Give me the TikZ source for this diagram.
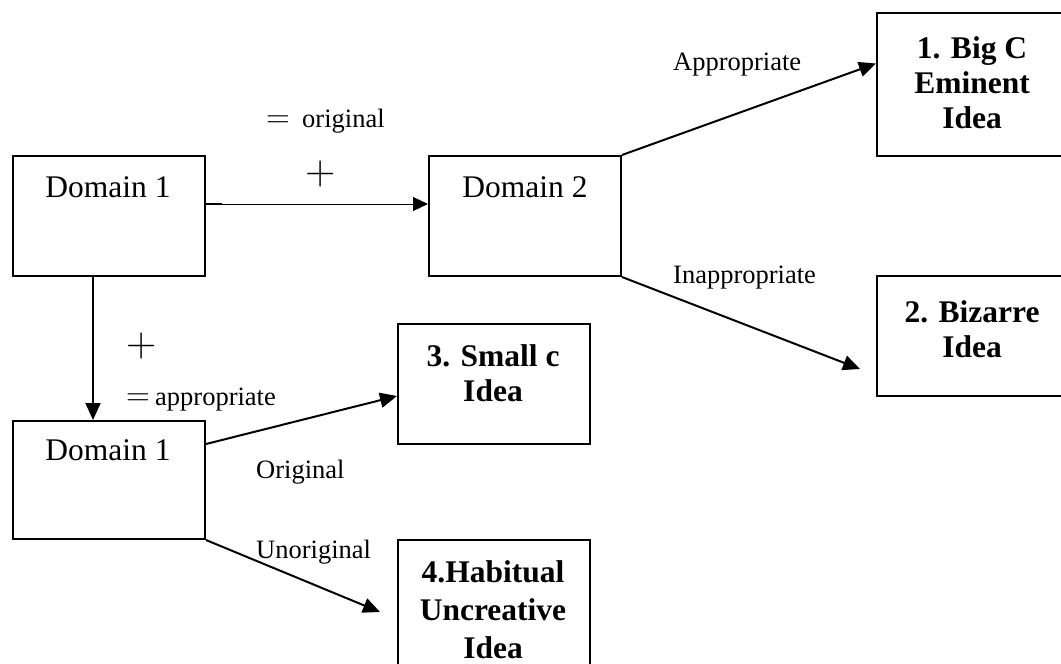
\documentclass[tikz,border=0pt]{standalone}
\usepackage{fontspec}
\newfontfamily\tnr{Liberation Serif}
\usetikzlibrary{arrows.meta}
\begin{document}
\begin{tikzpicture}[x=1pt,y=-1pt,
  box/.style={draw, line width=2pt, minimum width=192pt, minimum height=120pt, inner sep=0pt, anchor=north west},
  dom/.style={font=\tnr\fontsize{31.5}{35}\selectfont, anchor=base, inner sep=0pt},
  idea/.style={font=\tnr\bfseries\fontsize{31.5}{35}\selectfont, align=center, inner sep=0pt},
  lab/.style={font=\tnr\fontsize{26.5}{30}\selectfont, anchor=base west, inner sep=0pt},
  plussign/.style={font=\rmfamily\fontsize{42}{42}\selectfont, anchor=base, inner sep=0pt},
  eqsign/.style={font=\rmfamily\fontsize{33}{33}\selectfont, anchor=base west, inner sep=0pt},
  arr/.style={line width=2pt, -{Triangle[length=17pt,width=15pt]}},
  thinarr/.style={line width=1pt, -{Triangle[length=15pt,width=14pt]}},
]
\useasboundingbox (0,0) rectangle (1061,664);
\clip (0,0) rectangle (1061,664);

% boxes
\node[box] (d1) at (12,155) {};
\node[box] (d2) at (428,155) {};
\node[box, minimum height=143pt] (b1) at (876,12) {};
\node[box] (b2) at (876,275) {};
\node[box, minimum height=118pt] (d1b) at (12,420) {};
\node[box] (b3) at (397,323) {};
\node[box, minimum height=143pt] (b4) at (397,539) {};

% box texts
\node[dom] (t1) at (108,197) {Domain 1};
\node[dom] (t2) at (525,197) {Domain 2};
\node[dom] (t3) at (108,460) {Domain 1};
\node[idea] (tb1) at (972,83) {1. Big C\\Eminent\\Idea};
\node[idea] (tb2) at (972,329) {2. Bizarre\\Idea};
\node[idea] (tb3) at (493,373) {3. Small c\\Idea};
\node[idea, font=\tnr\bfseries\fontsize{31.5}{38}\selectfont] (tb4) at (493,610) {4.Habitual\\Uncreative\\Idea};

% signs and labels
\node[eqsign] (eq1) at (266,127) {=};
\node[lab] (lorig) at (302,127) {original};
\node[plussign] (pl1) at (321,184.5) {+};
\node[plussign] (pl2) at (142,356.5) {+};
\node[eqsign] (eq2) at (126,405) {=};
\node[lab] (lappr) at (155,405) {appropriate};
\node[lab] (lAppr) at (673,70) {Appropriate};
\node[lab] (lInappr) at (673,283) {Inappropriate};
\node[lab] (lOrig) at (256,478) {Original};
\node[lab] (lUnorig) at (256,558) {Unoriginal};

% connectors
\draw[thinarr] ([yshift=12pt]d1.east) -- ([yshift=12pt]d2.west);
\draw[line width=2pt] ([yshift=12pt]d1.east) -- ++(16,0);
\draw[arr] ([xshift=-16pt]d1.south) -- ([xshift=-16pt]d1b.north);
\draw[arr] (d2.north east) -- ([yshift=21pt]b1.west);
\draw[arr] (d2.south east) -- ([xshift=-16pt,yshift=-33pt]b2.west);
\draw[arr] ([yshift=36pt]d1b.east) -- ([yshift=-12pt]b3.west);
\draw[arr] (d1b.south east) -- ([xshift=-17pt,yshift=-73pt]b4.north west);
\end{tikzpicture}
\end{document}
